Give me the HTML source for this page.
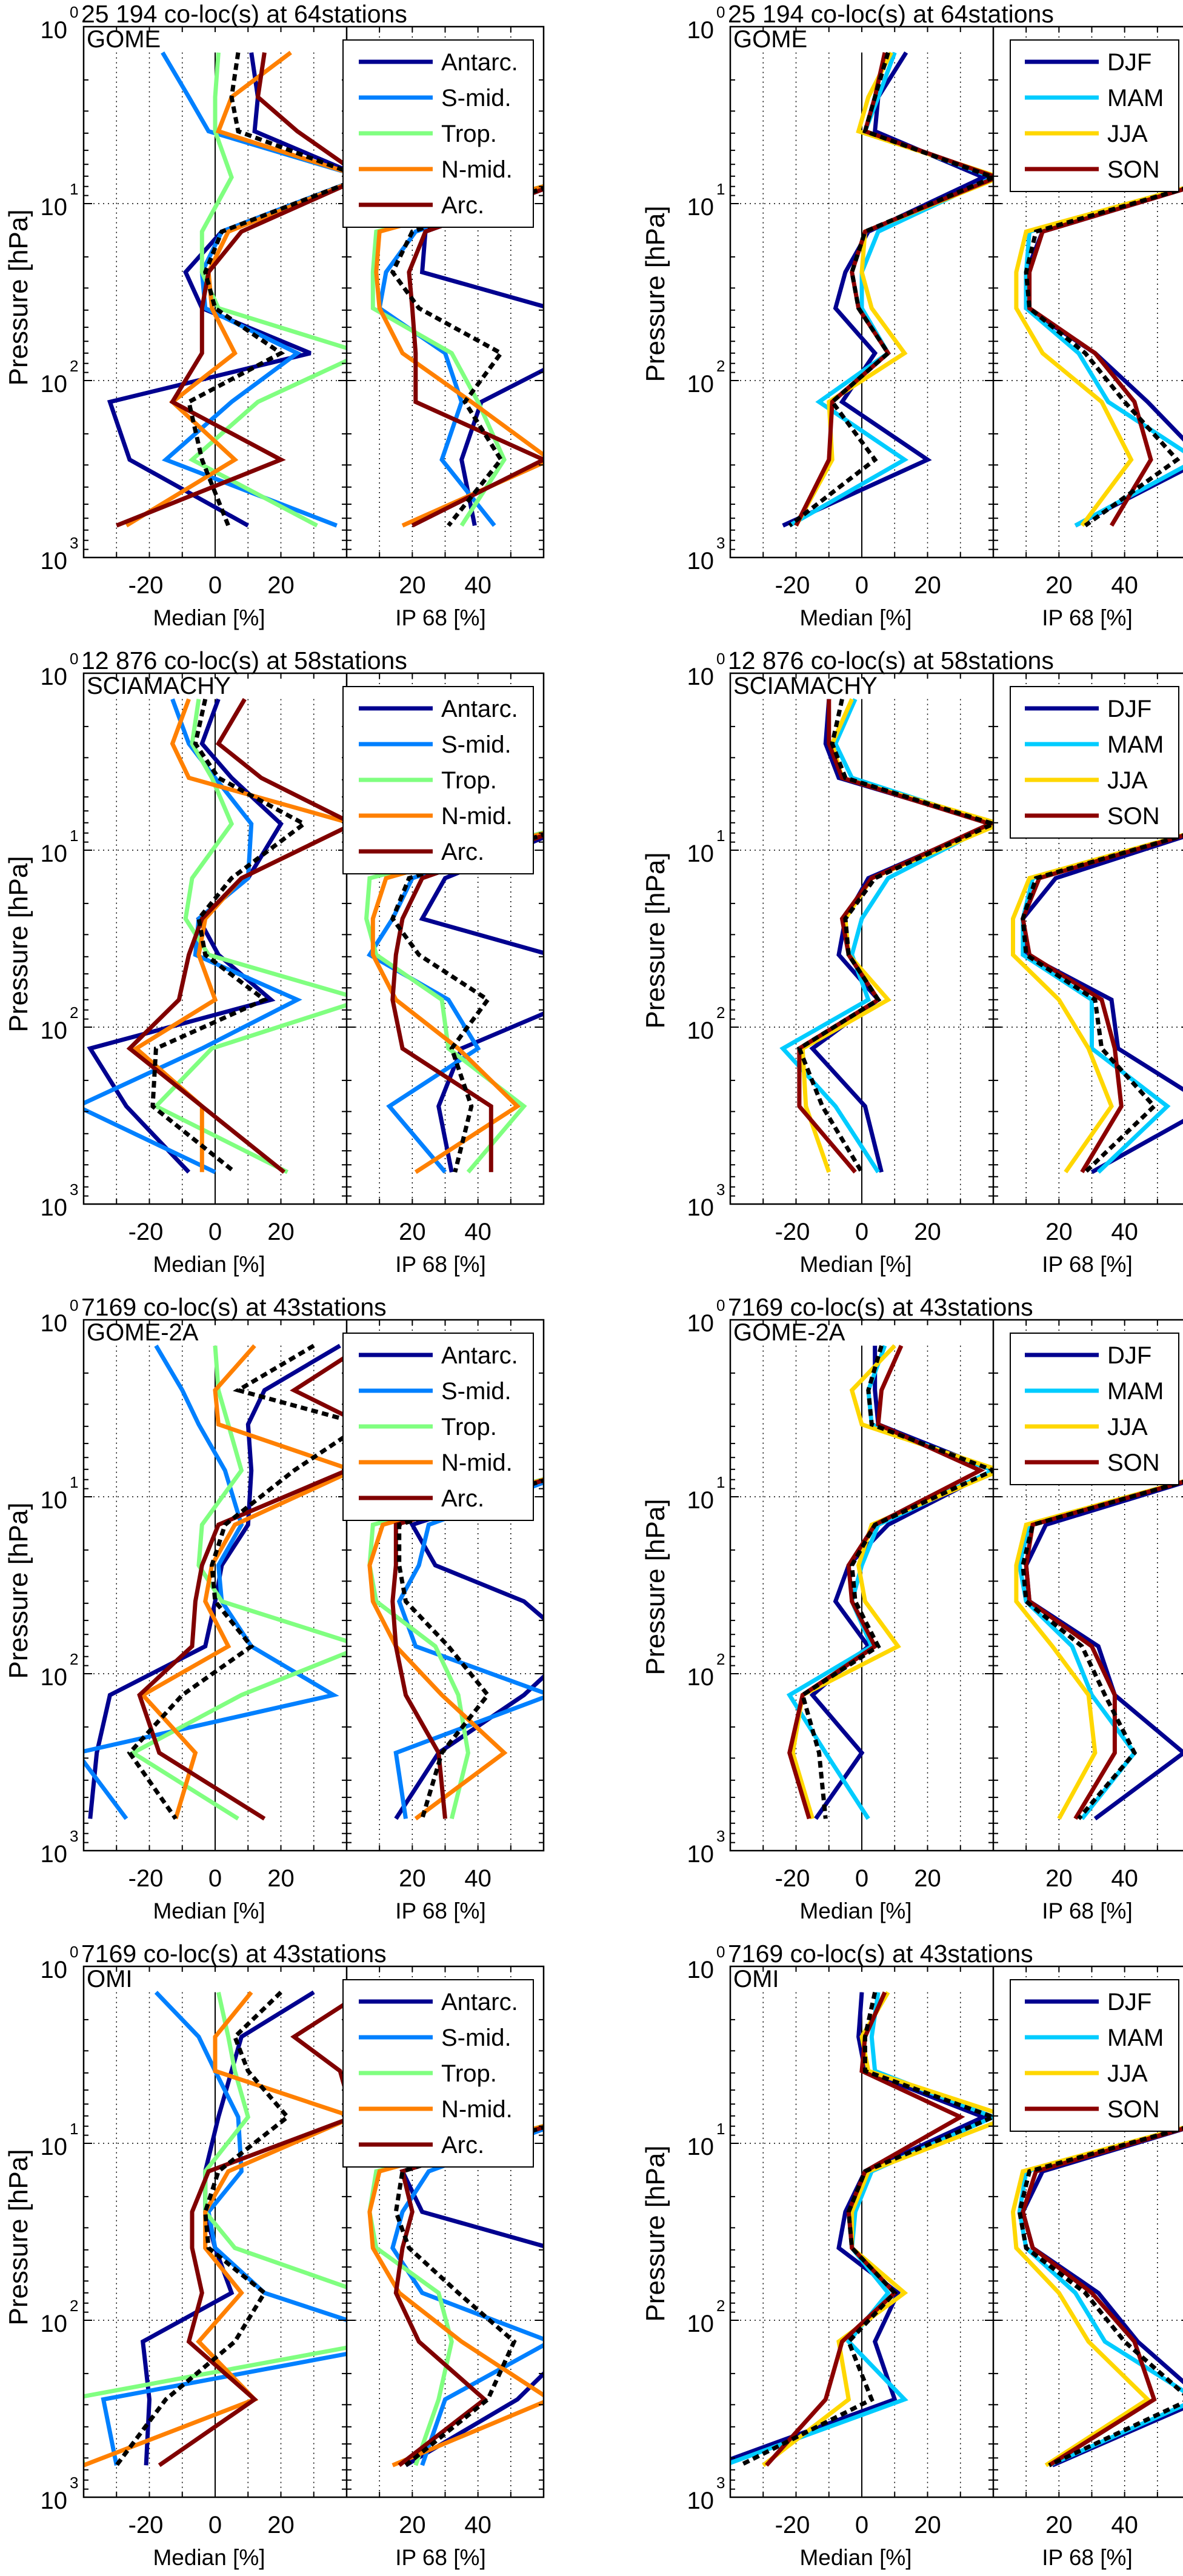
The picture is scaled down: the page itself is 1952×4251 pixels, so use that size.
<!DOCTYPE html>
<html><head><meta charset="utf-8">
<style>html,body{margin:0;padding:0;background:#fff;}svg{display:block;font-family:"Liberation Sans",Arial,sans-serif;}</style>
</head><body>
<svg id="fig" xmlns="http://www.w3.org/2000/svg" width="1952" height="4251" viewBox="0 0 1952 4251">
<rect x="0" y="0" width="1952" height="4251" fill="#fff"/>
</svg>
<script>
const levels = [1.4, 2.5, 3.9, 7.1, 14.4, 24.4, 39, 70, 132, 280, 660];
const instruments = ["GOME", "SCIAMACHY", "GOME-2A", "OMI"];
const titles = ["25 194 co-loc(s) at 64stations", "12 876 co-loc(s) at 58stations", "7169 co-loc(s) at 43stations", "7169 co-loc(s) at 43stations"];
const zoneNames = ["Antarc.", "S-mid.", "Trop.", "N-mid.", "Arc."];
const seasonNames = ["DJF", "MAM", "JJA", "SON"];
const medTicks = [-20, 0, 20];
const ipTicks = [20, 40];

// series order: Antarc, S-mid, Trop, N-mid, Arc, all (dashed)
const r1ZoneMed = [[11,13,12,45,2,-9,-4,29,-32,-26,10],[-16,-8,-2,45,2,-4,-3,25,5,-15,37],[1,0,0,5,-4,-4,1,45,13,-7,31],[23,5,1,45,4,-2,-1,6,-13,6,-27],[15,13,25,45,8,-2,-4,-4,-13,20,-30],[7,5,7,45,2,-3,0,20,-8,-4,4]];
const r1ZoneIp = [[65,65,62,70,24,23,62,70,41,35,39],[65,65,62,70,21,12,10,30,35,29,45],[65,65,65,70,9,8,8,32,40,48,35],[65,65,62,70,10,9,10,17,38,62,17],[65,65,62,70,24,19,20,21,21,60,20],[65,65,62,70,20,14,22,47,36,47,31]];
const r2ZoneMed = [[1,-4,5,20,10,-5,1,17,-38,-27,-8],[-13,-8,0,11,10,-5,-6,25,-4,-42,0],[-5,-7,-1,5,-7,-9,-2,45,-1,-18,22],[-8,-13,-8,42,8,-3,-5,0,-24,-4,-4],[9,1,14,42,8,-4,-8,-11,-26,-4,21],[-3,-6,1,27,5,-5,-3,15,-18,-19,6]];
const r2ZoneIp = [[65,65,62,70,30,23,62,70,35,28,32],[65,65,62,70,20,14,7,31,40,13,30],[65,65,65,70,7,6,9,29,31,54,37],[65,65,62,70,12,8,8,15,34,52,21],[65,65,62,70,23,17,15,14,17,44,44],[65,65,62,70,19,14,22,43,32,38,33]];
const r3ZoneMed = [[38,15,10,11,10,2,0,-3,-32,-36,-38],[-18,-10,-5,3,8,1,2,11,36,-42,-27],[0,1,4,8,-4,-5,2,45,8,-25,7],[12,0,1,42,6,-1,-3,4,-22,-6,-12],[45,24,45,40,1,-4,-6,-7,-23,-17,15],[30,7,45,24,3,-1,0,11,-10,-26,-12]];
const r3ZoneIp = [[65,65,62,70,20,27,54,70,54,28,15],[65,65,62,70,25,22,16,21,62,15,18],[65,65,65,70,8,7,9,27,34,37,32],[65,65,62,70,11,7,8,15,29,48,21],[65,65,62,70,15,15,14,15,18,28,30],[65,65,62,70,16,16,18,31,43,29,23]];
const r4ZoneMed = [[30,8,5,1,-3,-3,0,5,-22,-20,-21],[-18,-5,0,7,8,-2,0,15,60,-34,-30],[1,4,6,10,-3,-3,6,45,50,-45,-40],[11,0,0,42,4,-3,-3,8,-5,12,-40],[45,24,38,42,-2,-7,-7,-4,-8,12,-17],[20,6,10,22,1,-3,-2,15,6,-15,-30]];
const r4ZoneIp = [[65,65,62,70,17,23,62,70,70,52,18],[65,65,62,70,25,17,14,23,62,30,23],[65,65,65,70,9,7,9,28,32,28,21],[65,65,62,70,10,7,8,16,35,62,14],[65,65,62,70,17,20,17,15,22,42,16],[65,65,62,70,17,15,19,34,51,43,18]];
// series order: DJF, MAM, JJA, SON, all (dashed)
const r1SeasMed = [[13.5,5,4,37,2,-5,-8,4,-6,20,-24],[10,5,1,40,5,0,0,8,-13,13,-22],[9,2,-1,42,1,0,3,13,-10,-9,-20],[7,4,1,41,1,-3,-1,8,-9,-10,-20],[8,4,1,40,1,-3,-1,8,-9,4,-22]];
const r1SeasIp = [[65,65,60,70,15,10,10,31,47,64,25],[65,65,65,70,11,10,10,26,35,62,25],[65,65,65,70,10,7,7,15,33,42,27],[65,65,65,70,15,11,11,31,43,48,36],[65,65,65,70,13,10,11,28,40,56,28]];
const r2SeasMed = [[-10,-11,-7,40,2,-5,-7,5,-15,1,6],[-2,-8,-3,40,8,0,-3,2,-24,-8,5],[-3,-9,-6,42,3,-5,-4,8,-18,-17,-10],[-10,-10,-6,39,3,-6,-4,5,-19,-19,-2],[-6,-9,-5,40,4,-5,-4,5,-19,-12,0]];
const r2SeasIp = [[65,65,62,70,19,9,10,36,38,66,30],[65,65,65,70,12,9,9,30,30,53,32],[65,65,65,70,11,6,6,20,29,36,22],[65,65,65,70,14,9,11,33,37,39,27],[65,65,65,70,13,9,10,31,33,49,28]];
const r3SeasMed = [[4,4,5,40,8,-4,-8,2,-15,0,-14],[7,2,3,40,5,0,-3,3,-22,-11,2],[10,-3,0,42,3,-1,1,11,-18,-21,-15],[12,6,5,36,4,-4,-3,4,-18,-22,-16],[6,2,3,40,4,-3,-2,5,-18,-13,-11]];
const r3SeasIp = [[65,65,62,70,16,10,11,32,37,58,31],[65,65,65,70,11,8,10,24,30,43,27],[65,65,65,70,10,7,7,18,29,31,20],[65,65,65,70,12,10,11,30,37,37,25],[65,65,65,70,12,9,10,27,34,43,26]];
const r4SeasMed = [[0,-1,1,37,1,-5,-7,11,4,10,-45],[5,3,4,40,3,-2,-3,8,-4,13,-42],[8,0,2,45,2,-3,-3,13,-7,-4,-30],[7,1,0,30,1,-4,-3,10,-6,-11,-29],[4,1,1,40,1,-4,-3,10,-4,3,-37]];
const r4SeasIp = [[65,65,62,70,15,9,12,32,44,64,18],[65,65,65,70,10,8,10,25,34,62,17],[65,65,65,70,9,6,7,20,29,47,16],[65,65,65,70,13,9,12,30,43,49,17],[65,65,65,70,11,8,10,28,40,60,17]];

const zoneMed = [r1ZoneMed, r2ZoneMed, r3ZoneMed, r4ZoneMed];
const zoneIp = [r1ZoneIp, r2ZoneIp, r3ZoneIp, r4ZoneIp];
const seasMed = [r1SeasMed, r2SeasMed, r3SeasMed, r4SeasMed];
const seasIp = [r1SeasIp, r2SeasIp, r3SeasIp, r4SeasIp];

const zoneColors = ["#00008f", "#0080ff", "#80ff80", "#ff8000", "#800000", "#000"];
const seasColors = ["#00008f", "#00ccff", "#ffd700", "#8b0000", "#000"];

const NS = "http://www.w3.org/2000/svg";
const svg = document.getElementById("fig");
function mk(tag, attrs, parent) {
  const e = document.createElementNS(NS, tag);
  for (const k in attrs) e.setAttribute(k, attrs[k]);
  (parent || svg).appendChild(e);
  return e;
}
const ROW_PITCH = 1067, TOP0 = 44, DEC = 292, H = 876;
const MED_W = 434, IP_W = 325;

function drawGroup(r, gi) {
  const top = TOP0 + r * ROW_PITCH, bot = top + H;
  const axL = gi === 0 ? 138 : 1205;
  const div = axL + MED_W, right = div + IP_W;
  const yOf = p => top + Math.log10(p) * DEC;
  const xMed = v => axL + (v + 40) / 80 * MED_W;
  const xIp = v => div + v / 60 * IP_W;
  const g = mk("g", {});
  
  
  const id = "r" + r + "g" + gi;
  const defs = mk("defs", {}, g);
  const c1 = mk("clipPath", {id: id + "m"}, defs);
  mk("rect", {x: axL, y: top, width: MED_W, height: H}, c1);
  const c2 = mk("clipPath", {id: id + "i"}, defs);
  mk("rect", {x: div, y: top, width: IP_W, height: H}, c2);

  // grids
  const y1 = yOf(levels[0]);
  for (const v of [-30, -20, -10, 10, 20, 30]) {
    const l = mk("line", {x1: xMed(v), x2: xMed(v), y1: y1, y2: bot, stroke: "#000", "stroke-width": 1.5, "stroke-dasharray": "2 6"}, g);
    
    
  }
  for (const v of [10, 20, 30, 40, 50]) {
    const l = mk("line", {x1: xIp(v), x2: xIp(v), y1: top, y2: bot, stroke: "#000", "stroke-width": 1.5, "stroke-dasharray": "2 6"}, g);
    
    
  }
  for (const p of [10, 100]) {
    const l = mk("line", {x1: axL, x2: right, y1: yOf(p), y2: yOf(p), stroke: "#000", "stroke-width": 1.5, "stroke-dasharray": "2 6"}, g);
    
    
  }
  const zl = mk("line", {x1: xMed(0), x2: xMed(0), y1: y1, y2: bot, stroke: "#000", "stroke-width": 2}, g);
  
  

  const med = gi === 0 ? zoneMed[r] : seasMed[r];
  const ip = gi === 0 ? zoneIp[r] : seasIp[r];
  const cols = gi === 0 ? zoneColors : seasColors;
  const names = gi === 0 ? zoneNames : seasonNames;
  const last = med.length - 1;
  function series(data, xf, clip, kind) {
    data.forEach((arr, si) => {
      const pts = arr.map((v, i) => xf(v).toFixed(1) + "," + yOf(levels[i]).toFixed(1)).join(" ");
      const attrs = {points: pts, fill: "none", stroke: cols[si], "stroke-width": 7, "stroke-linejoin": "miter", "stroke-miterlimit": 3, "clip-path": "url(#" + clip + ")"};
      if (si === last) attrs["stroke-dasharray"] = "11 7";
      const pl = mk("polyline", attrs, g);
      
      
    });
  }
  series(med, xMed, id + "m", "median");
  series(ip, xIp, id + "i", "ip68");

  // axes box
  const box = mk("rect", {x: axL, y: top, width: right - axL, height: H, fill: "none", stroke: "#000", "stroke-width": 2.5}, g);
  
  
  const dv = mk("line", {x1: div, x2: div, y1: top, y2: bot, stroke: "#000", "stroke-width": 2.5}, g);
  
  

  // log ticks
  for (let d = 0; d < 3; d++) {
    for (let m = 1; m <= 9; m++) {
      const y = yOf(Math.pow(10, d) * m);
      const len = m === 1 ? 14 : 8;
      for (const [x, dir] of [[axL, 1], [div, -1], [div, 1], [right, -1]]) {
        const t = mk("line", {x1: x, x2: x + dir * len, y1: y, y2: y, stroke: "#000", "stroke-width": 2}, g);
        
        
      }
    }
  }
  for (const v of [-30, -20, -10, 0, 10, 20, 30]) {
    for (const [y, dir] of [[bot, -1], [top, 1]]) {
      const t = mk("line", {x1: xMed(v), x2: xMed(v), y1: y, y2: y + dir * 9, stroke: "#000", "stroke-width": 2}, g);
      
      
    }
  }
  for (const v of [10, 20, 30, 40, 50]) {
    for (const [y, dir] of [[bot, -1], [top, 1]]) {
      const t = mk("line", {x1: xIp(v), x2: xIp(v), y1: y, y2: y + dir * 9, stroke: "#000", "stroke-width": 2}, g);
      
      
    }
  }

  // y tick labels
  for (let d = 0; d <= 3; d++) {
    const y = top + d * DEC;
    const t = mk("text", {x: axL - 27, y: y + 19, "font-size": 40, "text-anchor": "end"}, g);
    t.textContent = "10";
    
    
    const s = mk("text", {x: axL - 23, y: y - 15, "font-size": 26}, g);
    s.textContent = String(d);
    
    
  }
  for (const v of medTicks) {
    const t = mk("text", {x: xMed(v) - (v < 0 ? 6 : 0), y: bot + 59, "font-size": 40, "text-anchor": "middle"}, g);
    t.textContent = String(v);
    
    
  }
  for (const v of ipTicks) {
    const t = mk("text", {x: xIp(v), y: bot + 59, "font-size": 40, "text-anchor": "middle"}, g);
    t.textContent = String(v);
    
    
  }
  const ml = mk("text", {x: (axL + div) / 2 - 10, y: bot + 112, "font-size": 37, "text-anchor": "middle"}, g);
  ml.textContent = "Median [%]";
  
  
  const il = mk("text", {x: div + 155, y: bot + 112, "font-size": 37, "text-anchor": "middle"}, g);
  il.textContent = "IP 68 [%]";
  
  

  const px = gi === 0 ? 45 : 1096, pyc = top + (gi === 0 ? 447 : 441);
  const pl = mk("text", {x: px, y: pyc, "font-size": 44, "text-anchor": "middle", transform: "rotate(-90 " + px + " " + pyc + ")"}, g);
  pl.textContent = "Pressure [hPa]";
  
  

  const tt = mk("text", {x: axL - 4, y: top - 7, "font-size": 41}, g);
  tt.textContent = titles[r];
  
  
  const it = mk("text", {x: axL + 5, y: top + 34, "font-size": 40}, g);
  it.textContent = instruments[r];
  
  

  // legend
  const lg = mk("g", {}, g);
  
  
  const lx0 = gi === 0 ? div - 6 : div + 28, lx1 = gi === 0 ? div + 308 : div + 306;
  const lh = gi === 0 ? 309 : 250;
  mk("rect", {x: lx0, y: top + 22, width: lx1 - lx0, height: lh, fill: "#fff", stroke: "#000", "stroke-width": 2}, lg);
  const ls = gi === 0 ? div + 20 : div + 52;
  for (let i = 0; i < names.length; i++) {
    const y = top + 58 + i * 59;
    const e = mk("g", {}, lg);
    
    
    mk("line", {x1: ls, x2: ls + 122, y1: y, y2: y, stroke: cols[i], "stroke-width": 7}, e);
    const t = mk("text", {x: ls + 136, y: y + 14, "font-size": 40}, e);
    t.textContent = names[i];
  }
}
for (let r = 0; r < 4; r++) { drawGroup(r, 0); drawGroup(r, 1); }
</script>
</body></html>
